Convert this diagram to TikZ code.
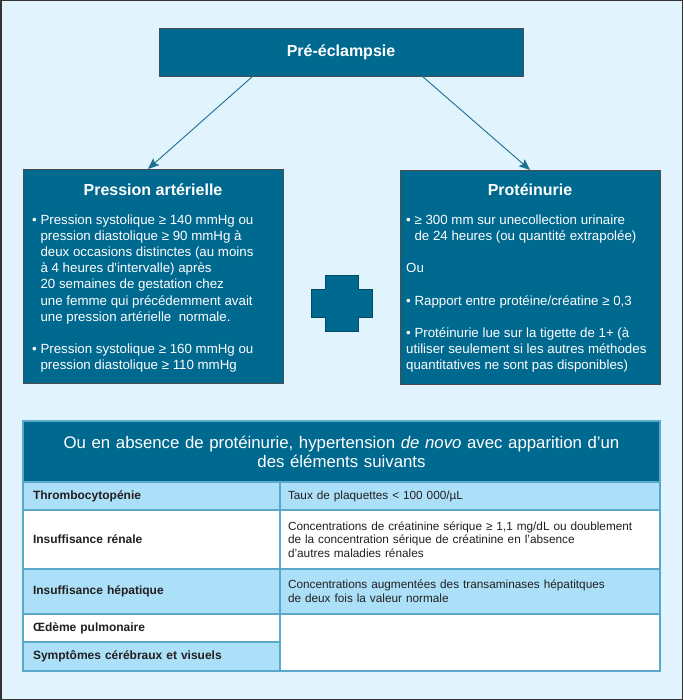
\documentclass[tikz,border=0pt]{standalone}
\usepackage{fontspec}
\setmainfont{Liberation Sans}
\usetikzlibrary{positioning,arrows.meta}
\definecolor{bgblue}{HTML}{E1F4FD}
\definecolor{boxteal}{HTML}{00698F}
\definecolor{cellblue}{HTML}{ABE0F8}
\definecolor{gridblue}{HTML}{5CA8CB}
\definecolor{arteal}{HTML}{1C6E93}
\definecolor{txtgray}{HTML}{231F20}
\newcommand{\ind}{\phantom{•\ }}

\begin{document}
\begin{tikzpicture}[x=1pt,y=-1pt,
    bx/.style={draw=black!70, line width=0.8pt, fill=boxteal, inner sep=0pt,
               outer sep=0pt, anchor=north west},
    ttl/.style={font=\fontsize{16}{19}\selectfont\bfseries, text=white, anchor=base},
    bdy/.style={font=\fontsize{13.3}{16.2}\selectfont, text=white, align=left,
                anchor=base west, inner sep=0pt},
    ar/.style={-{Stealth[length=11pt,width=9pt,inset=2pt]}, line width=0.9pt, arteal},
    hdr/.style={draw=gridblue, line width=1.3pt, fill=boxteal, text=white, outer sep=0pt,
                anchor=north west, minimum width=637pt, minimum height=61pt,
                text width=620pt, align=center, font=\fontsize{16.8}{19}\selectfont},
    cl/.style={draw=gridblue, line width=1.3pt, outer sep=0pt, anchor=north west,
               minimum width=257pt, text width=237pt, inner xsep=10pt, inner ysep=0pt,
               align=left, text=txtgray, font=\fontsize{12}{14}\selectfont\bfseries},
    cr/.style={draw=gridblue, line width=1.3pt, outer sep=0pt, anchor=north west,
               minimum width=380pt, text width=364pt, inner xsep=8pt, inner ysep=0pt,
               align=left, text=txtgray, font=\fontsize{11.8}{13.6}\selectfont},
]
\useasboundingbox (0,0) rectangle (683,700);
\draw[black!80, line width=1.5pt, fill=bgblue] (0.75,0.75) rectangle (682.25,699.25);
% --- top box and the two criteria ---
\node[bx, minimum width=364pt, minimum height=48pt, text=white,
      font=\fontsize{16}{19}\selectfont\bfseries] (pe) at (159,28) {Pré-éclampsie};
\node[bx, minimum width=260pt, minimum height=214pt] (pa) at (23,169) {};
\node[bx, minimum width=260pt, minimum height=214pt] (pr) at (400,170) {};
\node[ttl] (pat) at ([yshift=-27pt]pa.north) {Pression artérielle};
\node[ttl] (prt) at ([yshift=-26pt]pr.north) {Protéinurie};
% body nodes sit on the baseline of their last line
\node[bdy] (pab) at ([xshift=9pt,yshift=-200.8pt]pa.north west)
  {•\ Pression systolique ≥ 140 mmHg ou\\
   \ind pression diastolique ≥ 90 mmHg à\\
   \ind deux occasions distinctes (au moins\\
   \ind à 4 heures d\textquotesingle intervalle) après\\
   \ind 20 semaines de gestation chez\\
   \ind une femme qui précédemment avait\\
   \ind une pression artérielle\ \ normale.\\[16.2pt]
   •\ Pression systolique ≥ 160 mmHg ou\\
   \ind pression diastolique ≥ 110 mmHg};
\node[bdy] (prb) at ([xshift=6pt,yshift=-199.8pt]pr.north west)
  {•\ ≥ 300 mm sur unecollection urinaire\\
   \ind de 24 heures (ou quantité extrapolée)\\[16.2pt]
   Ou\\[16.2pt]
   •\ Rapport entre protéine/créatine ≥ 0,3\\[16.2pt]
   •\ Protéinurie lue sur la tigette de 1+ (à\\
   utiliser seulement si les autres méthodes\\
   quantitatives ne sont pas disponibles)};
\draw[ar] ([xshift=-88pt]pe.south) -- ([xshift=-5pt]pa.north);
\draw[ar] ([xshift=81pt]pe.south) -- (pr.north);
% --- plus sign ---
\fill[boxteal, draw=boxteal!70!black, line width=0.5pt]
  (325,275) -- (358,275) -- (358,289) -- (372,289) -- (372,317) -- (358,317)
  -- (358,331) -- (325,331) -- (325,317) -- (311,317) -- (311,289) -- (325,289) -- cycle;
% --- table ---
\node[hdr] (th) at (23,421)
  {Ou en absence de protéinurie, hypertension \textit{de novo} avec apparition d’un\\
   des éléments suivants};
\node[cl, fill=cellblue, minimum height=28pt] (l1) at (th.south west) {Thrombocytopénie};
\node[cr, fill=cellblue, minimum height=28pt] (r1) at (l1.north east)
  {Taux de plaquettes < 100 000/µL};
\node[cl, fill=white, minimum height=59pt] (l2) at (l1.south west) {Insuffisance rénale};
\node[cr, fill=white, minimum height=59pt] (r2) at (l2.north east)
  {Concentrations de créatinine sérique ≥ 1,1 mg/dL ou doublement\\
   de la concentration sérique de créatinine en l’absence\\
   d’autres maladies rénales};
\node[cl, fill=cellblue, minimum height=45pt] (l3) at (l2.south west) {Insuffisance hépatique};
\node[cr, fill=cellblue, minimum height=45pt] (r3) at (l3.north east)
  {Concentrations augmentées des transaminases hépatitques\\
   de deux fois la valeur normale};
\node[cl, fill=white, minimum height=28pt] (l4) at (l3.south west) {Œdème pulmonaire};
\node[cl, fill=cellblue, minimum height=29pt] (l5) at (l4.south west)
  {Symptômes cérébraux et visuels};
\node[cr, fill=white, minimum height=57pt] (r4) at (l4.north east) {};
\end{tikzpicture}
\end{document}
